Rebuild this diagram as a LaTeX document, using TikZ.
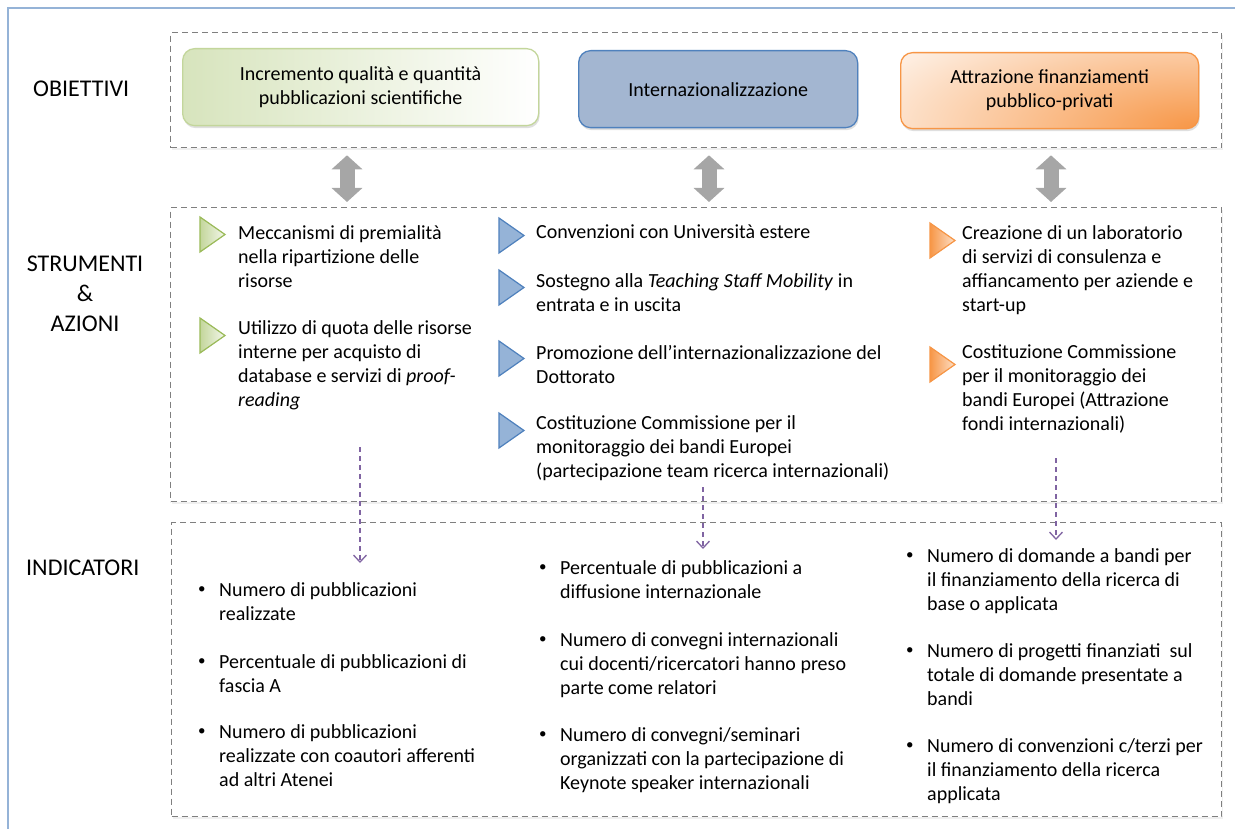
\documentclass[tikz,border=0pt]{standalone}
\usepackage{fontspec}
\setmainfont{Carlito}
\usetikzlibrary{arrows.meta,shadows}

\definecolor{bandgray}{HTML}{7F7F7F}
\definecolor{frameblue}{HTML}{95B3D7}
\definecolor{greenL}{HTML}{D7E4BD}
\definecolor{greenB}{HTML}{C3D69B}
\definecolor{greenD}{HTML}{9BBB59}
\definecolor{blueF}{HTML}{A3B6D1}
\definecolor{blueB}{HTML}{4F81BD}
\definecolor{blueT}{HTML}{95B3D7}
\definecolor{orangeB}{HTML}{F79646}
\definecolor{purpleA}{HTML}{8064A2}
\definecolor{arrgray}{HTML}{A6A6A6}

\newcommand{\bodyf}{\fontsize{20}{24}\selectfont}
\newcommand{\headf}{\fontsize{24}{30}\selectfont}
% triangle bullet, top-left corner at (#2,#3)
\newcommand{\trib}[3]{\filldraw[#1] (#2,#3) -- ++(25,17.5) -- ++(-25,17.5) -- cycle;}
% round bullet and its text
\newcommand{\indic}[4]{\node[dot] (#1d) at (#2,#3) {\raisebox{2pt}{\fontsize{15}{18}\selectfont\textbullet}};
   \node[item] (#1) at (#2+21,#3) {#4};}

\begin{document}
\begin{tikzpicture}[x=1pt,y=-1pt,
   every node/.style={inner sep=0pt},
   band/.style={draw=bandgray, line width=1.3pt, dash pattern=on 6pt off 4pt,
      fill=white, anchor=north west,
      drop shadow={opacity=0.12,shadow xshift=1.5pt,shadow yshift=-2.5pt}},
   goal/.style={rounded corners=12pt, line width=1.3pt, anchor=north west,
      align=center, font=\bodyf,
      drop shadow={opacity=0.25,shadow xshift=1pt,shadow yshift=-2.5pt}},
   item/.style={anchor=north west, yshift=12.3pt, align=left, font=\bodyf,
      execute at begin node=\strut},
   dot/.style={anchor=base west, font=\bodyf},
   hdr/.style={anchor=base west, font=\headf},
   gtri/.style={draw=greenD, line width=1.2pt, left color=greenB, right color=greenL!30!white},
   btri/.style={draw=blueB, line width=1.2pt, fill=blueT},
   otri/.style={draw=orangeB, line width=1.2pt, left color=orangeB, right color=orangeB!30!white},
   dbl/.style={draw=arrgray, line width=15pt,
      {Triangle[width=30pt,length=14pt]}-{Triangle[width=30pt,length=14pt]}},
   flow/.style={draw=purpleA, line width=1.3pt, dash pattern=on 5pt off 4pt,
      -{Straight Barb[length=7pt,width=13pt]}}]
   \useasboundingbox (0,0) rectangle (1235,829);
   \draw[frameblue, line width=2pt] (8,829) -- (8,8) -- (1235,8);

   % bands
   \node[band, minimum width=1051pt, minimum height=115pt] (obi) at (170,32) {};
   \node[band, minimum width=1051pt, minimum height=294pt] (str) at (170,207) {};
   \node[band, minimum width=1050pt, minimum height=294pt] (ind) at (171,522) {};

   \node[hdr] (lobi) at (33,97) {OBIETTIVI};
   \node[hdr, anchor=north, yshift=14.5pt, align=center, execute at begin node=\strut]
      (lstr) at (85,270) {STRUMENTI\\\&\\AZIONI};
   \node[hdr] (lind) at (26,575) {INDICATORI};

   % objectives
   \node[goal, draw=greenB, left color=greenL, middle color=greenL!45!white, right color=white,
      minimum width=356pt, minimum height=77pt] (g1) at (182,48)
      {Incremento qualità e quantità\\pubblicazioni scientifiche};
   \node[goal, draw=blueB, fill=blueF,
      minimum width=279pt, minimum height=77pt] (g2) at (578,50) {Internazionalizzazione};
   \node[goal, draw=orangeB, fill=white, minimum width=298pt, minimum height=76pt,
      path picture={\shade[inner color=orangeB, outer color=white]
         (path picture bounding box.south east) ellipse (420pt and 150pt);}]
      (g3) at (900,52) {Attrazione finanziamenti\\pubblico-privati};

   \coordinate (c1) at (347,0);
   \coordinate (c2) at (709,0);
   \coordinate (c3) at (1051,0);
   \draw[dbl, shorten <=7pt, shorten >=5pt] (c1 |- obi.south) -- (c1 |- str.north);
   \draw[dbl, shorten <=7pt, shorten >=5pt] (c2 |- obi.south) -- (c2 |- str.north);
   \draw[dbl, shorten <=7pt, shorten >=5pt] (c3 |- obi.south) -- (c3 |- str.north);

   % tools and actions
   \trib{gtri}{200}{217}
   \node[item] (s11) at (238,238) {Meccanismi di premialità\\nella ripartizione delle\\risorse};
   \trib{gtri}{200}{318}
   \node[item] (s12) at (238,333) {Utilizzo di quota delle risorse\\interne per acquisto di\\database e servizi di \textit{proof-}\\\textit{reading}};

   \trib{btri}{499}{218}
   \node[item, yshift=4.2pt] (s21) at (536,238) {Convenzioni con Università estere};
   \trib{btri}{499}{270}
   \node[item] (s22) at (536,286) {Sostegno alla \textit{Teaching Staff Mobility} in\\entrata e in uscita};
   \trib{btri}{499}{341}
   \node[item] (s23) at (536,357) {Promozione dell’internazionalizzazione del\\Dottorato};
   \trib{btri}{499}{413}
   \node[item] (s24) at (536,428) {Costituzione Commissione per il\\monitoraggio dei bandi Europei\\(partecipazione team ricerca internazionali)};

   \trib{otri}{930}{223}
   \node[item] (s31) at (962,238) {Creazione di un laboratorio\\di servizi di consulenza e\\affiancamento per aziende e\\start-up};
   \trib{otri}{930}{347}
   \node[item] (s32) at (962,357) {Costituzione Commissione\\per il monitoraggio dei\\bandi Europei (Attrazione\\fondi internazionali)};

   % indicators
   \indic{i11}{198}{595}{Numero di pubblicazioni\\realizzate}
   \indic{i12}{198}{667}{Percentuale di pubblicazioni di\\fascia A}
   \indic{i13}{198}{737}{Numero di pubblicazioni\\realizzate con coautori afferenti\\ad altri Atenei}
   \indic{i21}{539}{573}{Percentuale di pubblicazioni a\\diffusione internazionale}
   \indic{i22}{539}{645}{Numero di convegni internazionali\\cui docenti/ricercatori hanno preso\\parte come relatori}
   \indic{i23}{539}{740}{Numero di convegni/seminari\\organizzati con la partecipazione di\\Keynote speaker internazionali}
   \indic{i31}{906}{561}{Numero di domande a bandi per\\il finanziamento della ricerca di\\base o applicata}
   \indic{i32}{906}{656}{Numero di progetti finanziati\ \ sul\\totale di domande presentate a\\bandi}
   \indic{i33}{906}{751}{Numero di convenzioni c/terzi per\\il finanziamento della ricerca\\applicata}

   \coordinate (p1) at (360,447);  \coordinate (q1) at (360,563);
   \coordinate (p2) at (703,487);  \coordinate (q2) at (703,549);
   \coordinate (p3) at (1056,458); \coordinate (q3) at (1056,540);
   \draw[flow] (p1) -- (q1);
   \draw[flow] (p2) -- (q2);
   \draw[flow] (p3) -- (q3);
\end{tikzpicture}
\end{document}
